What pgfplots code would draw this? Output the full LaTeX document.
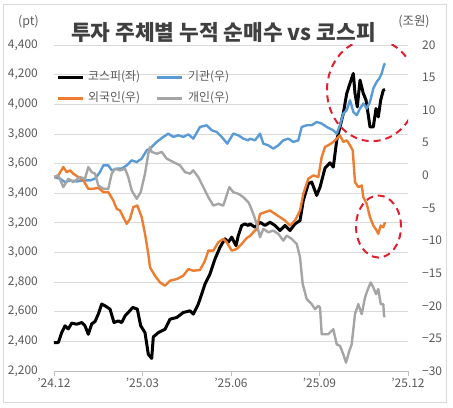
\documentclass[border=0pt]{standalone}
\usepackage{fontspec}
\setmainfont{Noto Sans CJK KR}
\usepackage{pgfplots}
\pgfplotsset{compat=1.18}
\definecolor{kblack}{HTML}{000000}
\definecolor{kblue}{HTML}{5B9BD5}
\definecolor{korange}{HTML}{ED7D31}
\definecolor{kgray}{HTML}{A5A5A5}
\definecolor{gridc}{HTML}{D9D9D9}
\definecolor{labc}{HTML}{595959}
\definecolor{axc}{HTML}{BFBFBF}
\definecolor{titc}{HTML}{404040}
\definecolor{kred}{HTML}{E0202E}
\begin{document}
\begin{tikzpicture}[x=1bp,y=1bp]
\useasboundingbox (-54,-36) rectangle (399,371);
\draw[gridc, line width=0.8bp] (-51,-31) rectangle (392,367);
\begin{axis}[
  at={(0,0)}, anchor=south west,
  scale only axis, width=354bp, height=326bp,
  xmin=0, xmax=354, ymin=2200, ymax=4400,
  axis x line*=bottom, axis y line*=left,
  y axis line style={draw=none},
  x axis line style={draw=axc, line width=0.8bp},
  tick align=outside, major tick length=5bp,
  ytick={2200,2400,...,4400},
  ytick style={draw=none},
  xtick={0,88.5,177,265.5,354},
  xticklabels={'24.12,'25.03,'25.06,'25.09,'25.12},
  xtick style={draw=axc, line width=0.8bp},
  ymajorgrids, grid style={draw=gridc, line width=0.8bp},
  /pgf/number format/.cd, 1000 sep={,}, assume math mode=true, /pgfplots/.cd,
  yticklabel style={font=\fontsize{12}{12}\selectfont, text=labc, inner sep=0pt, xshift=-11bp},
  xticklabel style={font=\fontsize{12}{12}\selectfont, text=labc, inner sep=0pt, yshift=-2bp},
]
\addplot[kblack, line width=3bp, line join=round] coordinates {
(0,2392) (4.3,2392) (7.7,2459) (11,2505) (14.3,2484) (17.7,2523) (22.7,2516) (27.7,2527) (31,2505) (34.3,2448) (37.7,2518) (41,2534) (44.3,2584) (47.7,2652) (51,2640) (56,2618) (60,2527) (64.3,2538) (67.7,2527) (71,2572) (74.3,2595) (78.7,2629) (83.3,2618) (86.7,2505) (91,2459) (94.3,2313) (97.7,2285) (99.3,2430) (104.3,2459) (111,2482) (116,2550) (122.7,2561) (129.3,2595) (136,2606) (139.3,2584) (144.3,2652) (147.7,2719) (151,2787) (156,2855) (161,2956) (166,3035) (171,3092) (174.3,3069) (177.7,3103) (182,3046) (184.3,3114) (187.7,3182) (191,3193) (194.3,3182) (196,3193) (201,3170) (206,3204) (211,3182) (216,3204) (221,3182) (226,3148) (231,3182) (236,3148) (241,3193) (246,3215) (249.3,3351) (254.3,3464) (257.7,3475) (262.7,3385) (266,3440) (271,3570) (276,3605) (279.3,3576) (282.7,3757) (286,3847) (289.3,3938) (292.7,4073) (296,4141) (299.3,4208) (301,4073) (303.3,3982) (306,4163) (309.3,4073) (312,4028) (314.3,3926) (316,3847) (319.3,3847) (322,3971) (324.3,3915) (326.7,4028) (329.3,4095) (331,4100)
};
\draw[kred, line width=2bp, dash pattern=on 7bp off 5bp] (axis cs:318,4095) ellipse [x radius=45bp, y radius=51bp];
\draw[kred, line width=2bp, dash pattern=on 7bp off 5bp] (axis cs:324.5,3175) ellipse [x radius=22.5bp, y radius=31bp];
\end{axis}
\begin{axis}[
  at={(0,0)}, anchor=south west,
  scale only axis, width=354bp, height=326bp,
  xmin=0, xmax=354, ymin=-30, ymax=20,
  axis x line=none, axis y line*=right,
  y axis line style={draw=none},
  tick align=outside, major tick length=5bp,
  ytick={-30,-25,...,20},
  yticklabels={−30,−25,−20,−15,−10,−5,0,5,10,15,20},
  ytick style={draw=none},
  yticklabel style={font=\fontsize{12}{12}\selectfont, text=labc, inner sep=0pt, xshift=9bp},
]
\addplot[kblue, line width=2.4bp, line join=round] coordinates {
(0,-0.26) (6,-0.5) (11,-1.03) (16,-0.77) (22.7,-0.92) (29.3,-0.77) (36,-0.77) (41,-0.5) (46,0.51) (49.3,1.54) (54.3,1.54) (57.7,0.77) (62.7,1.03) (67.7,1.03) (72.7,1.54) (77.7,2.31) (82.7,2.05) (87.7,2.57) (92.7,3.85) (96,4.1) (102.7,5.13) (109.3,5.9) (114.3,6.41) (119.3,5.9) (124.3,6.15) (129.3,5.9) (134.3,6.3) (139.3,5.64) (146,7.43) (152.7,7.69) (157.7,6.92) (162.7,6.67) (167.7,5.9) (173.3,4.87) (179.3,6.41) (184.3,6.15) (189.3,5.64) (194.3,5.38) (196,5.64) (201,5.38) (206,6.41) (209.3,4.87) (214.3,4.62) (219.3,4.1) (224.3,4.62) (229.3,5.38) (234.3,5.64) (239.3,5.13) (244.3,5.38) (247.7,7.43) (252.7,7.69) (257.7,7.69) (262.7,8.2) (267.7,7.95) (272.7,7.43) (279.3,6.92) (282.7,6.41) (286,7.69) (289.3,9.49) (292.7,10.0) (296,11.54) (299.3,9.74) (302.7,9.23) (306,10.26) (309.3,11.03) (312.7,10.26) (316,11.28) (319.3,13.33) (322.7,14.36) (325.3,14.87) (327.7,15.64) (330,16.92) (331,17.2)
};
\addplot[korange, line width=2.4bp, line join=round] coordinates {
(0,-0.26) (4.3,0) (9.3,1.28) (12.7,0.51) (16,0.77) (19.3,0.26) (24.3,-0.26) (29.3,-0.77) (34.3,-2.05) (39.3,-2.05) (44.3,-1.9) (49.3,-2.57) (54.3,-2.57) (59.3,-3.85) (62.7,-5.13) (66,-5.38) (69.3,-6.41) (72.7,-7.43) (76,-6.67) (79.3,-4.87) (83.3,-4.62) (87.7,-6.41) (91,-8.97) (94.3,-12.05) (96,-14.1) (101,-15.38) (106,-16.41) (111,-16.92) (116,-16.15) (122.7,-15.9) (129.3,-15.38) (134.3,-14.36) (139.3,-14.62) (146,-14.5) (151,-13.08) (154.3,-11.54) (159.3,-11.54) (164.3,-10.26) (169.3,-9.74) (172.7,-10.26) (177.7,-11.54) (182.7,-11.28) (187.7,-10.51) (192.7,-9.6) (196,-9.3) (199.3,-8.72) (202.7,-8.2) (206,-5.9) (211,-5.64) (216,-5.38) (221,-5.9) (226,-6.41) (231,-6.92) (236,-7.69) (241,-6.92) (246,-5.38) (249.3,-2.82) (254.3,-0.51) (259.3,0) (264.3,-0.26) (267.7,2.82) (271,4.36) (274.3,4.62) (279.3,5.13) (282.7,5.64) (286,6.15) (289.3,5.13) (292.7,5.38) (296,4.62) (298.7,3.85) (301,-1.03) (304.3,-1.8) (307.7,-1.54) (309.3,-3.33) (312.7,-4.36) (316,-6.41) (319.3,-7.69) (322.7,-8.46) (324.3,-8.97) (326.7,-7.69) (329.3,-7.95) (331,-7.18)
};
\addplot[kgray, line width=2.4bp, line join=round] coordinates {
(0,-0.26) (4.3,0) (9.3,-1.8) (14.3,-0.51) (19.3,-1.03) (26,-0.26) (31,-0.51) (34.3,1.28) (37.7,0.51) (41,0.26) (44.3,-1.54) (49.3,-2.05) (54.3,-2.05) (57.7,0.26) (61,1.03) (66,0.77) (71,1.03) (74.3,-0.26) (77.7,-2.31) (82.7,-3.59) (86.7,-2.57) (91,0.26) (94.3,3.33) (96,4.36) (97.7,3.6) (102.7,3.33) (107.7,3.59) (112.7,2.57) (119.3,2.05) (126,1.54) (131,0.51) (136,0.26) (139.3,0.77) (144.3,-0.26) (149.3,-1.8) (154.3,-3.33) (159.3,-4.62) (164.3,-4.36) (169.3,-4.62) (175.3,-1.8) (179.3,-2.57) (184.3,-2.82) (189.3,-3.33) (194.3,-4.1) (196,-4.62) (199.3,-5.9) (202.7,-7.43) (206,-9.49) (209.3,-8.2) (214.3,-8.72) (219.3,-8.46) (224.3,-8.97) (229.3,-10.0) (232.7,-9.23) (237.7,-9.74) (242.7,-10.51) (246,-12.56) (248.7,-16.67) (252.7,-18.97) (257.7,-19.74) (261,-20.51) (264.3,-20.0) (266,-20.26) (267.7,-24.36) (274.3,-24.36) (279.3,-23.59) (282.7,-25.9) (286,-26.15) (289.3,-27.44) (292,-28.72) (295.3,-26.92) (297.7,-25.9) (301,-21.28) (304.3,-19.74) (307.7,-21.28) (311,-18.72) (313.3,-17.69) (316.7,-16.41) (319.3,-17.18) (322,-18.2) (324.3,-17.44) (326.7,-19.74) (329.3,-19.74) (330,-21.54) (331,-21.7)
};
\end{axis}
% title and unit labels
\node[font=\fontsize{21.5}{21.5}\selectfont\bfseries, text=titc] at (169.5,339) {투자 주체별 누적 순매수 vs 코스피};
\node[font=\fontsize{12.5}{12.5}\selectfont, text=labc] at (-25.5,349) {(pt)};
\node[font=\fontsize{12.5}{12.5}\selectfont, text=labc] at (360,349) {(조원)};
% legend
\draw[kblack, line width=3bp] (4,294) -- (29,294);
\node[anchor=west, inner sep=0pt, font=\fontsize{12}{12}\selectfont, text=labc] at (34,294) {코스피(좌)};
\draw[kblue, line width=3bp] (103,294) -- (128,294);
\node[anchor=west, inner sep=0pt, font=\fontsize{12}{12}\selectfont, text=labc] at (134,294) {기관(우)};
\draw[korange, line width=3bp] (4,273) -- (29,273);
\node[anchor=west, inner sep=0pt, font=\fontsize{12}{12}\selectfont, text=labc] at (34,273) {외국인(우)};
\draw[kgray, line width=3bp] (103,273) -- (128,273);
\node[anchor=west, inner sep=0pt, font=\fontsize{12}{12}\selectfont, text=labc] at (134,273) {개인(우)};
\end{tikzpicture}
\end{document}
